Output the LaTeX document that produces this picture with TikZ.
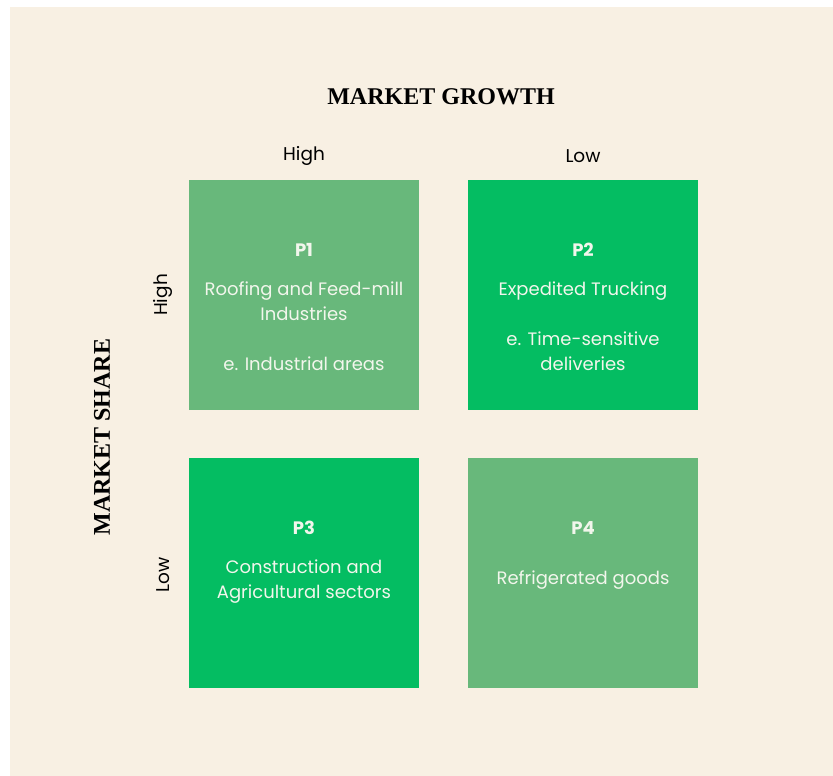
\documentclass[tikz,border=0pt]{standalone}
\usepackage{fontspec}
\setmainfont{Poppins}
\newfontfamily\headfont{Liberation Serif}
\usetikzlibrary{positioning,calc}
\definecolor{cream}{HTML}{F8F0E3}
\definecolor{mutedgreen}{HTML}{68B87B}
\definecolor{brightgreen}{HTML}{04BD62}
\definecolor{boxtext}{HTML}{F2F6EC}
\begin{document}
\begin{tikzpicture}
  [x=1pt, y=-1pt,
   quad/.style={minimum width=230pt, minimum height=230pt, inner sep=0pt},
   soft/.style={quad, fill=mutedgreen},
   bright/.style={quad, fill=brightgreen},
   plabel/.style={text=boxtext, font=\bfseries\fontsize{18}{21}\selectfont},
   body/.style={text=boxtext, align=center, font=\fontsize{18}{25}\selectfont},
   level/.style={font=\fontsize{18.5}{22}\selectfont},
   axis/.style={font=\headfont\bfseries\fontsize{24}{28}\selectfont}]
  % page
  \fill[white] (0,0) rectangle (833,776);
  \fill[cream] (10,7) rectangle (833,776);
  \useasboundingbox (0,0) rectangle (833,776);
  % quadrants
  \node[soft] (q1) at (304,295) {};
  \node[bright] (q2) at (583,295) {};
  \node[bright] (q3) at (304,573) {};
  \node[soft] (q4) at (583,573) {};
  % quadrant names
  \foreach \q in {1,...,4} {
    \node[plabel] (p\q) at ($(q\q.north)+(0,70)$) {P\q};
  };
  % quadrant texts
  \node[body] (t1) at (304,326) {Roofing and Feed-mill\\Industries\\[25pt]e. Industrial areas};
  \node[body] (t2) at (583,326) {Expedited Trucking\\[25pt]e. Time-sensitive\\deliveries};
  \node[body] (t3) at (304,582) {Construction and\\Agricultural sectors};
  \node[body] (t4) at (583,580) {Refrigerated goods};
  % axes
  \node[axis] (growth) at (441,97) {MARKET GROWTH};
  \node[axis, rotate=90] (share) at (102,437) {MARKET SHARE};
  \node[level] (gh) at ($(q1.north)+(0,-24)$) {High};
  \node[level] (gl) at ($(q2.north)+(0,-24)$) {Low};
  \node[level, rotate=90] (sh) at ($(q1.west)+(-26,0)$) {High};
  \node[level, rotate=90] (sl) at ($(q3.west)+(-26,2)$) {Low};
\end{tikzpicture}
\end{document}
